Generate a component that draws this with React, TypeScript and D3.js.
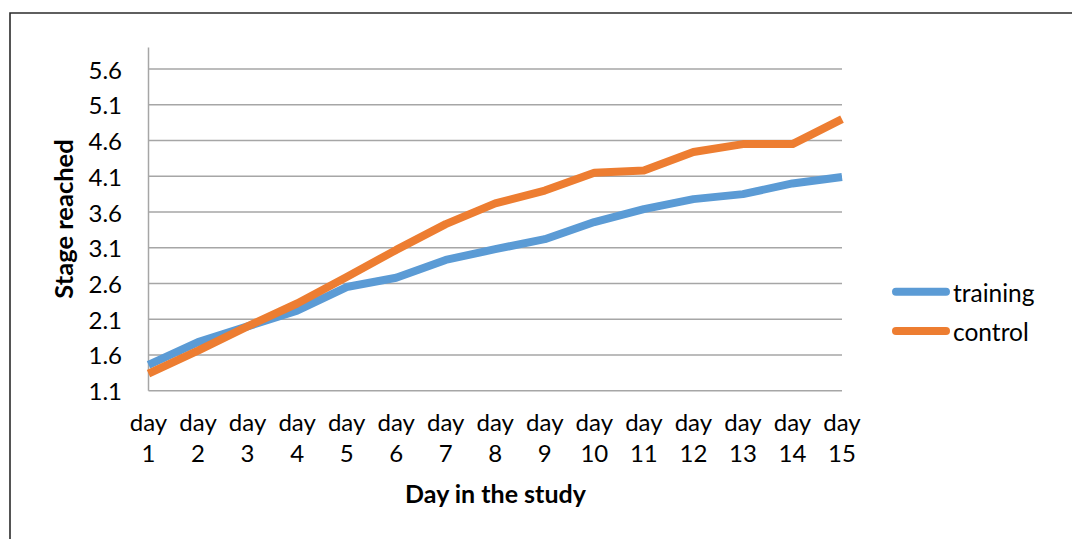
import React from "react";
import * as d3 from "d3";

// Categories and series
const days = ["1", "2", "3", "4", "5", "6", "7", "8", "9", "10", "11", "12", "13", "14", "15"];
const training = [1.46, 1.78, 2.0, 2.22, 2.55, 2.68, 2.93, 3.08, 3.22, 3.46, 3.64, 3.78, 3.85, 4.0, 4.09];
const control = [1.34, 1.66, 2.0, 2.32, 2.69, 3.07, 3.43, 3.72, 3.9, 4.15, 4.18, 4.44, 4.55, 4.55, 4.9];
const yTicks = [1.1, 1.6, 2.1, 2.6, 3.1, 3.6, 4.1, 4.6, 5.1, 5.6];
const seriesNames = ["training", "control"];
const seriesColors = ["#5B9BD5", "#ED7D31"];

const W = 1072;
const H = 539;
const FONT = "Lato, 'Open Sans', sans-serif";

export default function App() {
  const x = d3.scalePoint<string>().domain(days).range([148.5, 842]);
  const y = d3.scaleLinear().domain([1.1, 5.9]).range([390.7, 47.6]);
  const line = d3
    .line<number>()
    .x((_, i) => x(days[i]) as number)
    .y((d) => y(d));
  const series = [training, control];

  return (
    <svg
      width={W}
      height={H}
      style={{ position: "absolute", left: 0, top: 0, background: "#fff" }}
      fontFamily={FONT}
    >
      {/* chart frame */}
      <path d={`M10,${H} V13 H${W}`} fill="none" stroke="#2b2b2b" strokeWidth={1.6} />

      {/* horizontal gridlines */}
      {yTicks.slice(1).map((t) => (
        <line key={t} x1={148.5} x2={842} y1={y(t)} y2={y(t)} stroke="#a6a6a6" strokeWidth={1.5} />
      ))}
      {/* axes */}
      <line x1={148.5} x2={148.5} y1={y(5.9)} y2={y(1.1)} stroke="#a6a6a6" strokeWidth={1.5} />
      <line x1={148.5} x2={842} y1={y(1.1)} y2={y(1.1)} stroke="#a6a6a6" strokeWidth={1.5} />

      {/* y tick labels */}
      {yTicks.map((t) => (
        <text key={t} x={122} y={y(t) + 9.5} textAnchor="end" fontSize={24} fill="#000">
          {t.toFixed(1)}
        </text>
      ))}

      {/* x tick labels */}
      {days.map((d) => (
        <text key={d} textAnchor="middle" fontSize={24} fill="#000">
          <tspan x={x(d)} y={431}>day</tspan>
          <tspan x={x(d)} y={462}>{d}</tspan>
        </text>
      ))}

      {/* series lines */}
      {series.map((s, i) => (
        <path
          key={seriesNames[i]}
          d={line(s) || ""}
          fill="none"
          stroke={seriesColors[i]}
          strokeWidth={8}
          strokeLinejoin="round"
        />
      ))}

      {/* axis titles */}
      <text x={495.5} y={503} textAnchor="middle" fontSize={25} fontWeight="bold" fill="#000">
        Day in the study
      </text>
      <text
        transform="translate(73,219) rotate(-90)"
        textAnchor="middle"
        fontSize={25.5}
        fontWeight="bold"
        fill="#000"
      >
        Stage reached
      </text>

      {/* legend */}
      {seriesNames.map((n, i) => {
        const ly = 291.7 + i * 39.3;
        return (
          <g key={n}>
            <line
              x1={896}
              x2={946}
              y1={ly}
              y2={ly}
              stroke={seriesColors[i]}
              strokeWidth={8}
              strokeLinecap="round"
            />
            <text x={953} y={ly + 9.8} fontSize={24.5} fill="#000">
              {n}
            </text>
          </g>
        );
      })}
    </svg>
  );
}
